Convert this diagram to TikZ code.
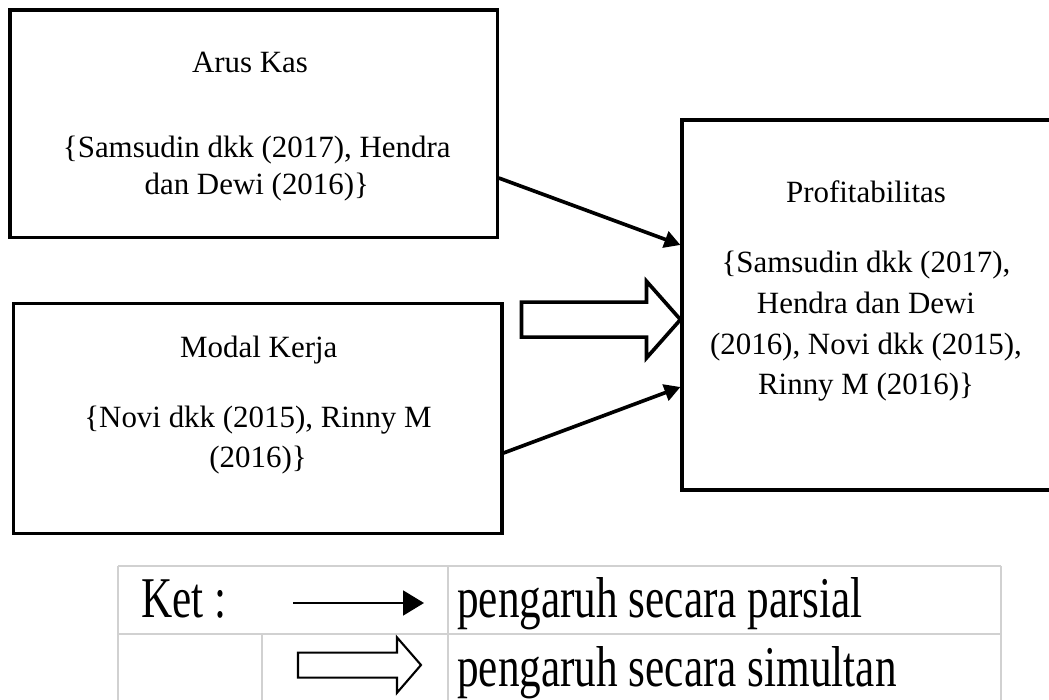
\documentclass[tikz,border=0pt]{standalone}
\usepackage{fontspec}
\setmainfont{Liberation Serif}
\newfontfamily\ketfont[FakeStretch=0.75]{Liberation Serif}
\usetikzlibrary{arrows.meta, positioning}
\tikzset{
    varbox/.style={rectangle, draw, line width=2.2pt},
    txt/.style={align=center, anchor=base, inner sep=0pt, font=\fontsize{22}{28}\selectfont},
    ket/.style={anchor=base west, inner sep=0pt, font=\ketfont\fontsize{41}{46}\selectfont},
    arrow/.style={line width=2.6pt, -{Triangle[length=0.4cm, width=0.42cm]}},
    fatarrow/.style={line width=2.6pt, line join=miter},
    tblline/.style={draw=black!18, line width=1.8pt}
}

\begin{document}
\begin{tikzpicture}
    \clip (0,0) rectangle (26.225,-17.5);

    % Variable boxes
    \node (arus) [varbox, minimum width=12.18cm, minimum height=5.68cm] at (6.34,-3.09) {};
    \node (modal) [varbox, minimum width=12.22cm, minimum height=5.75cm] at (6.44,-10.455) {};
    \node (profit) [varbox, minimum width=9.35cm, minimum height=9.25cm] at (21.725,-7.625) {};

    % Box texts (base = last line)
    \node (arusTitle) [txt] at (6.25,-1.825) {Arus Kas};
    \node (arusRef) [txt, font=\fontsize{22}{27}\selectfont] at (6.42,-4.875) {\{Samsudin dkk (2017), Hendra\\ dan Dewi (2016)\}};
    \node (modalTitle) [txt] at (6.47,-8.95) {Modal Kerja};
    \node (modalRef) [txt, font=\fontsize{22}{29}\selectfont] at (6.45,-11.7) {\{Novi dkk (2015), Rinny M\\ (2016)\}};
    \node (profitTitle) [txt] at (21.65,-5.075) {Profitabilitas};
    \node (profitRef) [txt, font=\fontsize{22}{29}\selectfont] at (21.65,-9.875) {\{Samsudin dkk (2017),\\ Hendra dan Dewi\\ (2016), Novi dkk (2015),\\ Rinny M (2016)\}};

    % Partial effects
    \draw[arrow] ([yshift=-1.36cm]arus.east) -- ([yshift=1.5cm]profit.west);
    \draw[arrow] ([yshift=-0.87cm]modal.east) -- ([yshift=-2.05cm]profit.west);

    % Simultaneous effect
    \coordinate (simTip) at ([yshift=-0.365cm]profit.west);
    \draw[fatarrow] (simTip) -- ++(-0.85,0.96) -- ++(0,-0.5225) -- ++(-3.125,0) -- ++(0,-0.875)
        -- ++(3.125,0) -- ++(0,-0.5225) -- cycle;

    % Legend table
    \draw[tblline] (2.95,-14.15) -- (25.025,-14.15);
    \draw[tblline] (2.95,-15.85) -- (25.025,-15.85);
    \draw[tblline] (2.95,-14.15) -- (2.95,-17.6);
    \draw[tblline] (6.55,-15.85) -- (6.55,-17.6);
    \draw[tblline] (11.2,-14.15) -- (11.2,-17.6);
    \draw[tblline] (25.025,-14.15) -- (25.025,-17.6);

    \node (ket) [ket] at (3.525,-15.45) {Ket :};
    \node (parsial) [ket] at (11.425,-15.45) {pengaruh secara parsial};
    \node (simultan) [ket] at (11.425,-17.15) {pengaruh secara simultan};

    % Legend arrows
    \coordinate (parStart) at (7.325,-15.075);
    \coordinate (parEnd) at (10.6,-15.075);
    \draw[line width=1.4pt, -{Triangle[length=0.525cm, width=0.625cm]}] (parStart) -- (parEnd);
    \coordinate (simEnd) at (10.525,-16.625);
    \draw[line width=1.5pt, line join=miter] (simEnd) -- ++(-0.6,0.69) -- ++(0,-0.38) -- ++(-2.475,0)
        -- ++(0,-0.625) -- ++(2.475,0) -- ++(0,-0.38) -- cycle;
\end{tikzpicture}
\end{document}
